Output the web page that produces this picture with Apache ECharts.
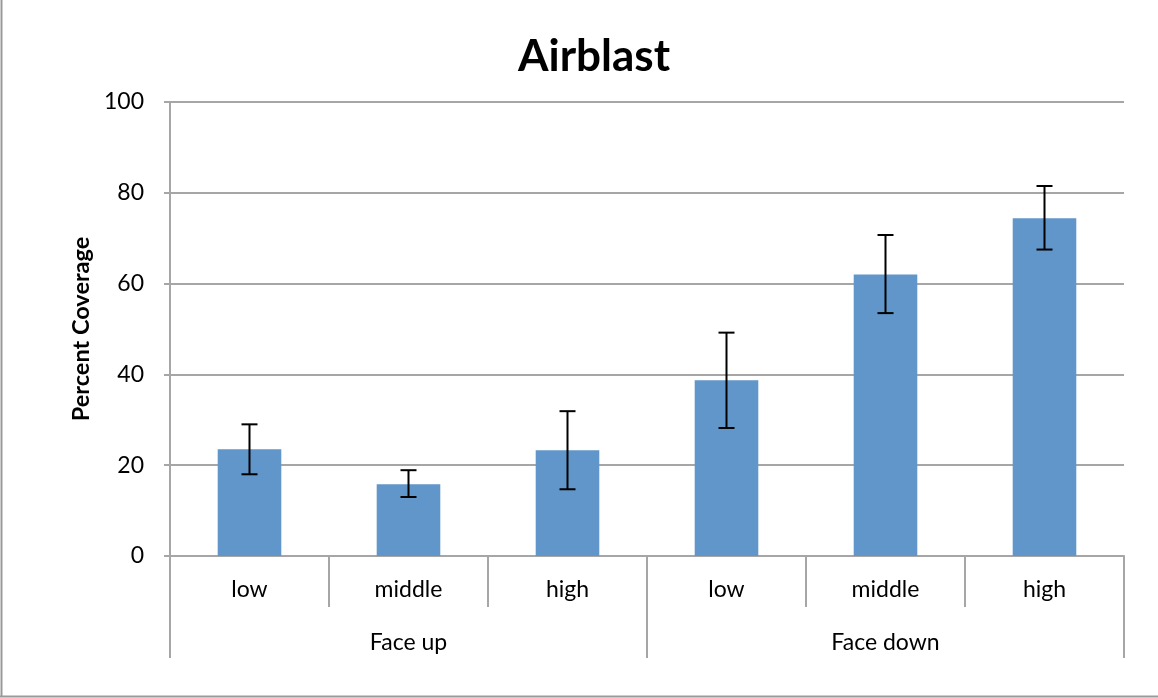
<!DOCTYPE html>
<html>
<head>
<meta charset="utf-8">
<script src="https://cdn.jsdelivr.net/npm/echarts@6/dist/echarts.min.js"></script>
<style>
  html, body { margin: 0; padding: 0; background: #fff; }
  #chart { width: 1158px; height: 698px; }
</style>
</head>
<body>
<div id="chart"></div>
<script>
// data
var categories = ['low', 'middle', 'high', 'low', 'middle', 'high'];
var groups = ['Face up', 'Face down'];
var coverage = [23.5, 15.8, 23.3, 38.7, 62.0, 74.4];
var errLow = [18.0, 13.0, 14.7, 28.2, 53.5, 67.5];
var errHigh = [29.0, 18.9, 31.9, 49.2, 70.7, 81.5];

var font = 'Lato';
var gray = '#a6a6a6';

var chart = echarts.init(document.getElementById('chart'));

var errData = categories.map(function (c, i) {
    return [i, errLow[i], errHigh[i]];
});

var option = {
    backgroundColor: '#fff',
    animation: false,
    textStyle: { fontFamily: font },
    title: {
        text: 'Airblast',
        left: 513,
        top: 30,
        textStyle: { fontSize: 44, fontWeight: 'bold', color: '#000', fontFamily: font }
    },
    // chart frame: only left and bottom edges are inside the picture
    graphic: [
        {
            type: 'line',
            shape: { x1: 1.5, y1: 0, x2: 1.5, y2: 697 },
            style: { stroke: '#999', lineWidth: 2 },
            silent: true
        },
        {
            type: 'line',
            shape: { x1: 0, y1: 696.5, x2: 1158, y2: 696.5 },
            style: { stroke: '#999', lineWidth: 2 },
            silent: true
        }
    ],
    grid: {
        left: 170,
        right: 34,
        top: 102,
        bottom: 142
    },
    xAxis: [
        {
            type: 'category',
            data: categories,
            position: 'bottom',
            axisLine: { show: true, lineStyle: { color: gray, width: 2 } },
            axisTick: { show: true, length: 51, lineStyle: { color: gray, width: 2 } },
            axisLabel: { color: '#000', fontSize: 23, margin: 22, fontFamily: font }
        },
        {
            type: 'category',
            data: groups,
            position: 'bottom',
            axisLine: { show: false },
            axisTick: { show: true, length: 102, lineStyle: { color: gray, width: 2 } },
            axisLabel: { color: '#000', fontSize: 23, margin: 75, fontFamily: font }
        }
    ],
    yAxis: {
        type: 'value',
        min: 0,
        max: 100,
        interval: 20,
        name: 'Percent Coverage',
        nameLocation: 'middle',
        nameGap: 76,
        nameTextStyle: { fontSize: 23.5, fontWeight: 'bold', color: '#000', fontFamily: font },
        axisLine: { show: true, lineStyle: { color: gray, width: 2 } },
        axisTick: { show: true, length: 6, lineStyle: { color: gray, width: 2 } },
        axisLabel: { color: '#000', fontSize: 23, margin: 26, fontFamily: font },
        splitLine: { lineStyle: { color: gray, width: 2 } }
    },
    series: [
        {
            name: 'Percent Coverage',
            type: 'bar',
            xAxisIndex: 0,
            barWidth: '40%',
            data: coverage,
            itemStyle: { color: '#6096c9' }
        },
        {
            name: 'error',
            type: 'custom',
            xAxisIndex: 0,
            data: errData,
            z: 10,
            renderItem: function (params, api) {
                var x = api.value(0);
                var lo = api.coord([x, api.value(1)]);
                var hi = api.coord([x, api.value(2)]);
                var cap = 8;
                var style = { stroke: '#000', lineWidth: 2 };
                return {
                    type: 'group',
                    children: [
                        { type: 'line', shape: { x1: lo[0], y1: lo[1], x2: hi[0], y2: hi[1] }, style: style },
                        { type: 'line', shape: { x1: hi[0] - cap, y1: hi[1], x2: hi[0] + cap, y2: hi[1] }, style: style },
                        { type: 'line', shape: { x1: lo[0] - cap, y1: lo[1], x2: lo[0] + cap, y2: lo[1] }, style: style }
                    ]
                };
            }
        }
    ]
};

chart.setOption(option);
</script>
</body>
</html>
